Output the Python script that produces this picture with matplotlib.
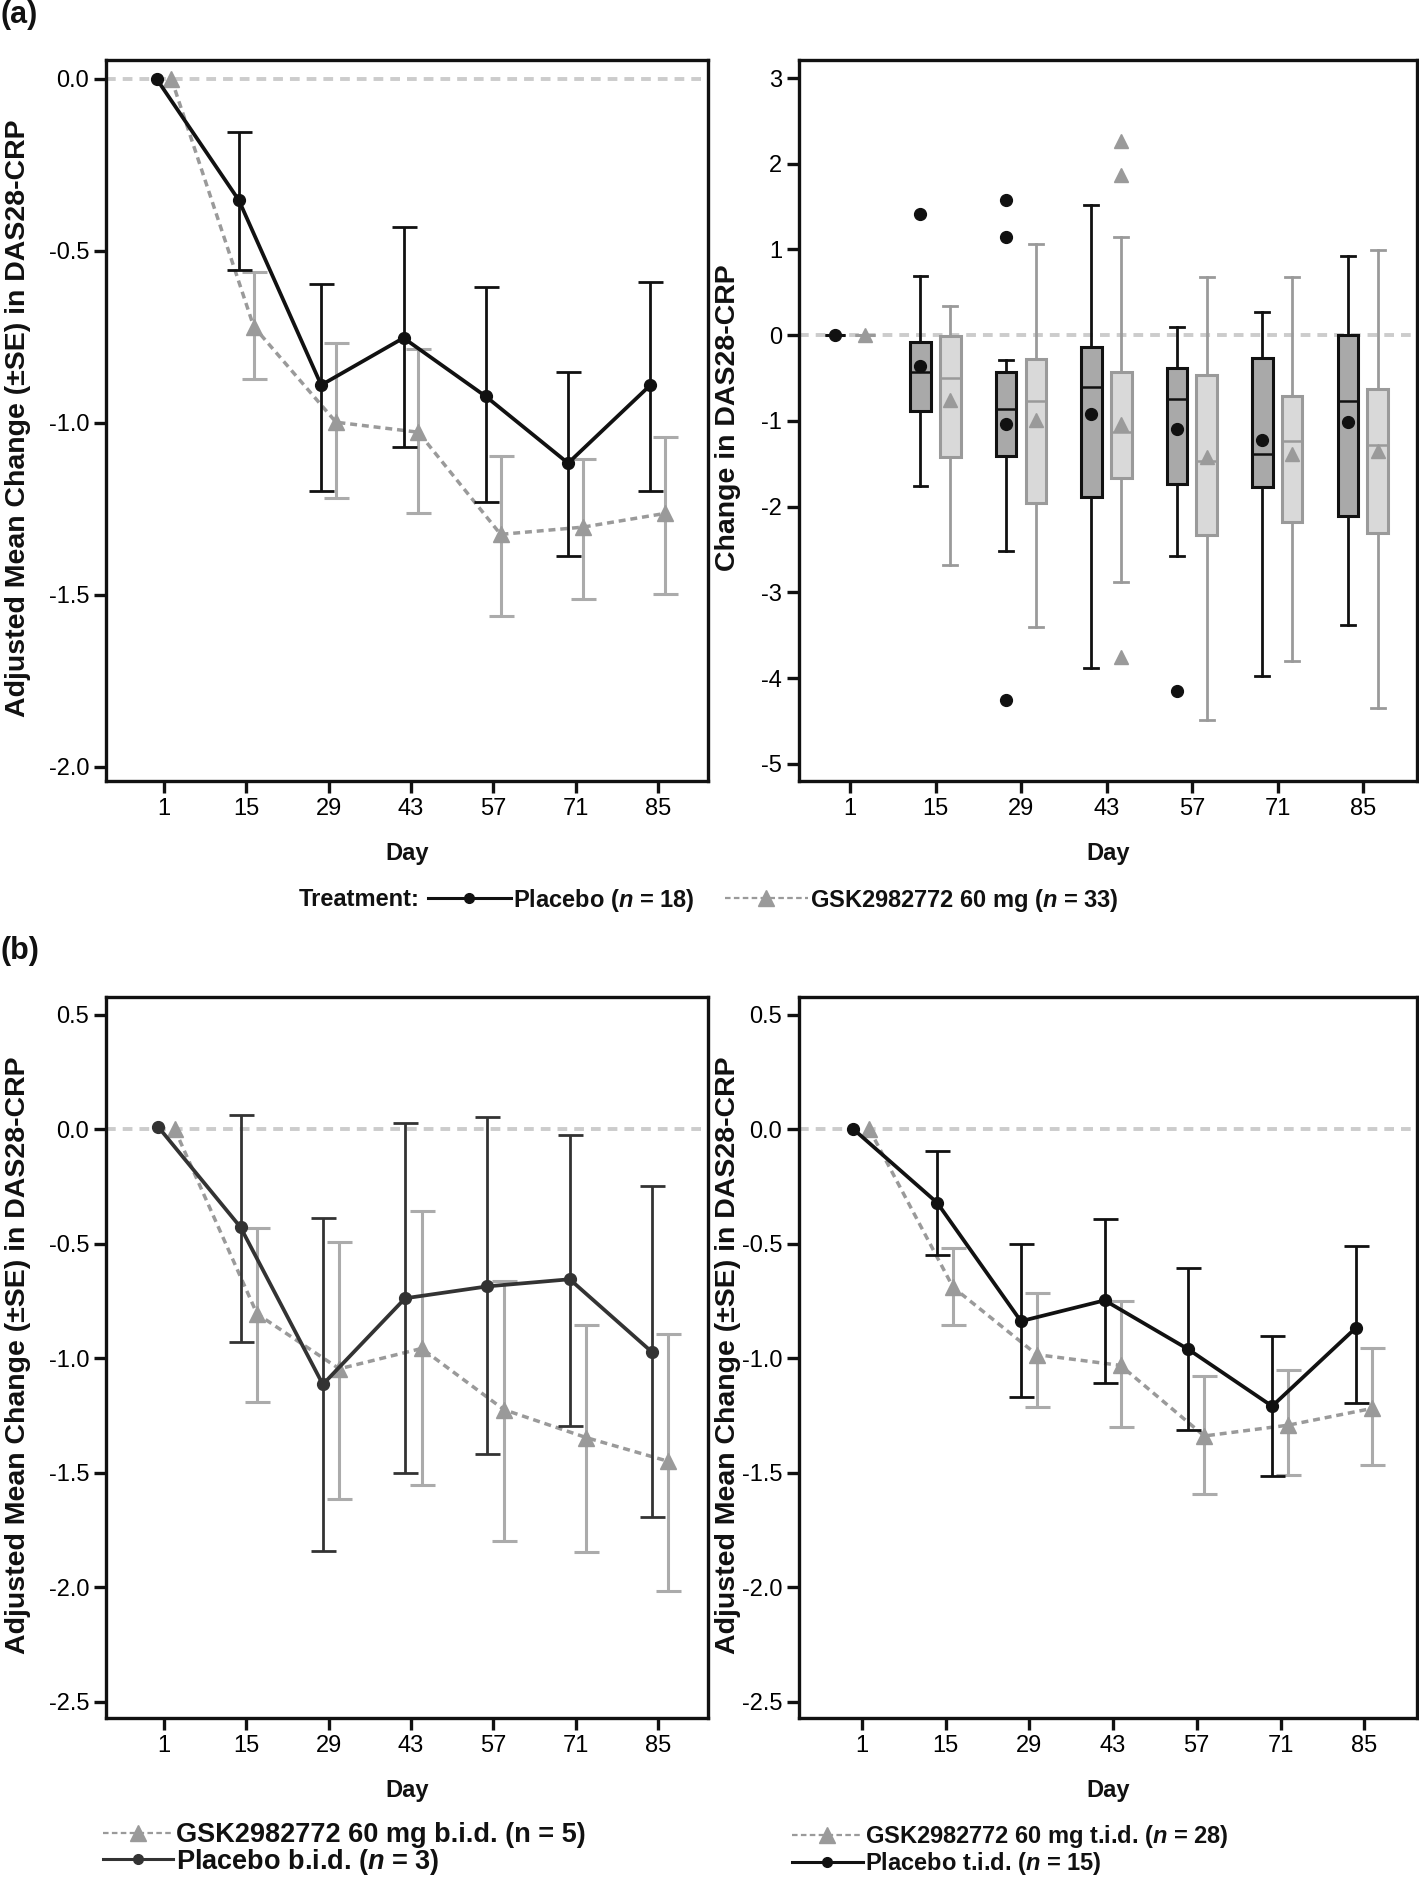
import numpy as np
import matplotlib
matplotlib.use("Agg")
import matplotlib.pyplot as plt
from matplotlib.lines import Line2D

plt.rcParams['font.family'] = ['Liberation Sans', 'DejaVu Sans']
plt.rcParams['mathtext.fontset'] = 'custom'
plt.rcParams['mathtext.it'] = 'Liberation Sans:italic:bold'
plt.rcParams['mathtext.rm'] = 'Liberation Sans:bold'
plt.rcParams['mathtext.bf'] = 'Liberation Sans:bold'

days = ['1', '15', '29', '43', '57', '71', '85']

# (a) left: adjusted mean change with SE bounds
a_plc_mean = [0, -0.353, -0.89, -0.753, -0.923, -1.117, -0.89]
a_plc_lo = [0, -0.555, -1.199, -1.069, -1.229, -1.386, -1.199]
a_plc_hi = [0, -0.154, -0.597, -0.43, -0.605, -0.851, -0.589]
a_gsk_mean = [0, -0.72, -0.998, -1.027, -1.324, -1.303, -1.263]
a_gsk_lo = [0, -0.873, -1.217, -1.261, -1.56, -1.512, -1.498]
a_gsk_hi = [0, -0.562, -0.768, -0.786, -1.095, -1.104, -1.04]

# (a) right: box plot summaries
plc_whislo = [0, -1.76, -2.515, -3.88, -2.575, -3.973, -3.378]
plc_q1 = [0, -0.89, -1.41, -1.886, -1.739, -1.766, -2.107]
plc_med = [0, -0.435, -0.863, -0.602, -0.749, -1.391, -0.763]
plc_q3 = [0, -0.08, -0.435, -0.134, -0.388, -0.268, 0.0]
plc_whishi = [0, 0.696, -0.294, 1.518, 0.094, 0.274, 0.923]
plc_boxmean = [0, -0.36, -1.037, -0.916, -1.097, -1.224, -1.01]
plc_fliers = [[], [1.41], [1.58, 1.15, -4.25], [], [-4.154], [], []]

gsk_whislo = [0, -2.68, -3.405, -2.876, -4.488, -3.8, -4.348]
gsk_q1 = [0, -1.425, -1.953, -1.666, -2.334, -2.174, -2.308]
gsk_med = [0, -0.5, -0.763, -1.13, -1.465, -1.231, -1.284]
gsk_q3 = [0, -0.013, -0.28, -0.428, -0.462, -0.709, -0.622]
gsk_whishi = [0, 0.34, 1.063, 1.15, 0.682, 0.682, 0.997]
gsk_boxmean = [0, -0.756, -0.99, -1.04, -1.425, -1.385, -1.351]
gsk_fliers = [[], [], [], [2.27, 1.866, -3.75], [], [], []]

# (b) left: b.i.d.
b_plc_mean = [0.01, -0.428, -1.114, -0.738, -0.686, -0.655, -0.973]
b_plc_lo = [0.01, -0.929, -1.842, -1.5, -1.419, -1.294, -1.693]
b_plc_hi = [0.01, 0.06, -0.389, 0.026, 0.055, -0.026, -0.248]
b_gsk_mean = [0, -0.806, -1.046, -0.957, -1.224, -1.346, -1.45]
b_gsk_lo = [0, -1.19, -1.615, -1.552, -1.797, -1.845, -2.017]
b_gsk_hi = [0, -0.43, -0.493, -0.357, -0.663, -0.853, -0.895]

# (b) right: t.i.d.
c_plc_mean = [0, -0.321, -0.838, -0.747, -0.961, -1.209, -0.867]
c_plc_lo = [0, -0.548, -1.167, -1.107, -1.311, -1.514, -1.196]
c_plc_hi = [0, -0.094, -0.501, -0.392, -0.606, -0.901, -0.512]
c_gsk_mean = [0, -0.69, -0.984, -1.031, -1.339, -1.292, -1.219]
c_gsk_lo = [0, -0.856, -1.214, -1.3, -1.593, -1.509, -1.467]
c_gsk_hi = [0, -0.52, -0.715, -0.749, -1.078, -1.052, -0.953]

GREY = '#9a9a9a'
EGREY = '#ababab'
REF = '#cccccc'
W, H = 1419, 1877


def frame(ax, xlim, ylim, yticks, yfmt):
    ax.set_xlim(*xlim)
    ax.set_ylim(*ylim)
    ax.set_xticks(range(len(days)))
    ax.set_xticklabels(days)
    ax.set_yticks(yticks)
    ax.set_yticklabels([yfmt.format(v) for v in yticks])
    for s in ax.spines.values():
        s.set_linewidth(2.4)
        s.set_color('#111111')
    ax.tick_params(width=2.4, length=8.5, labelsize=17, pad=3.5, color='#111111')
    ax.axhline(0, color=REF, lw=2.8, ls=(0, (2.5, 1.8)), zorder=0)


def line_panel(ax, pm, plo, phi, gm, glo, ghi, pcol, dp, dg):
    x = np.arange(len(days))
    pm, plo, phi = map(np.array, (pm, plo, phi))
    gm, glo, ghi = map(np.array, (gm, glo, ghi))
    ax.errorbar(x[1:] + dg, gm[1:], yerr=[gm[1:] - glo[1:], ghi[1:] - gm[1:]],
                fmt='none', ecolor=EGREY, elinewidth=2.2, capsize=9, capthick=2.2, zorder=2)
    ax.plot(x + dg, gm, color=GREY, lw=2.5, ls=(0, (2, 1.4)), marker='^', ms=11,
            mfc=GREY, mec=GREY, zorder=3)
    ax.errorbar(x[1:] + dp, pm[1:], yerr=[pm[1:] - plo[1:], phi[1:] - pm[1:]],
                fmt='none', ecolor=pcol, elinewidth=2.0, capsize=9, capthick=2.0, zorder=4)
    ax.plot(x + dp, pm, color=pcol, lw=2.7, marker='o', ms=8.5, mfc=pcol, mec=pcol, zorder=5)


fig = plt.figure(figsize=(W / 100, H / 100), dpi=100)


def axes_px(left, top, right, bottom):
    return fig.add_axes([left / W, 1 - bottom / H, (right - left) / W, (bottom - top) / H])


ax1 = axes_px(106, 60, 708, 781)
ax2 = axes_px(799, 60, 1417, 781)
ax3 = axes_px(106, 997, 708, 1718)
ax4 = axes_px(799, 997, 1417, 1718)

# (a) left
frame(ax1, (-0.705, 6.61), (-2.041, 0.055), [0.0, -0.5, -1.0, -1.5, -2.0], '{:.1f}')
line_panel(ax1, a_plc_mean, a_plc_lo, a_plc_hi, a_gsk_mean, a_gsk_lo, a_gsk_hi,
           '#111111', -0.09, 0.09)

# (a) right box plots
frame(ax2, (-0.6, 6.63), (-5.2, 3.21), [3, 2, 1, 0, -1, -2, -3, -4, -5], '{:d}')
x = np.arange(len(days))
plc_stats = [dict(whislo=plc_whislo[i], q1=plc_q1[i], med=plc_med[i], q3=plc_q3[i],
                  whishi=plc_whishi[i], mean=plc_boxmean[i], fliers=plc_fliers[i])
             for i in range(len(days))]
gsk_stats = [dict(whislo=gsk_whislo[i], q1=gsk_q1[i], med=gsk_med[i], q3=gsk_q3[i],
                  whishi=gsk_whishi[i], mean=gsk_boxmean[i], fliers=gsk_fliers[i])
             for i in range(len(days))]
ax2.bxp(plc_stats, positions=x - 0.18, widths=0.24, capwidths=0.16, patch_artist=True,
        showmeans=True, manage_ticks=False,
        boxprops=dict(facecolor='#a9a9a9', edgecolor='#111111', lw=2.2),
        medianprops=dict(color='#111111', lw=1.8),
        whiskerprops=dict(color='#111111', lw=2.0),
        capprops=dict(color='#111111', lw=2.0),
        meanprops=dict(marker='o', ms=8.5, mfc='#111111', mec='#111111'),
        flierprops=dict(marker='o', ms=8.5, mfc='#111111', mec='#111111'))
ax2.bxp(gsk_stats, positions=x + 0.17, widths=0.24, capwidths=0.16, patch_artist=True,
        showmeans=True, manage_ticks=False,
        boxprops=dict(facecolor='#d9d9d9', edgecolor=GREY, lw=2.2),
        medianprops=dict(color=GREY, lw=1.8),
        whiskerprops=dict(color=GREY, lw=2.0),
        capprops=dict(color=GREY, lw=2.0),
        meanprops=dict(marker='^', ms=10, mfc=GREY, mec=GREY),
        flierprops=dict(marker='^', ms=10, mfc=GREY, mec=GREY))

# (b) panels
bticks = [0.5, 0.0, -0.5, -1.0, -1.5, -2.0, -2.5]
frame(ax3, (-0.705, 6.61), (-2.57, 0.577), bticks, '{:.1f}')
line_panel(ax3, b_plc_mean, b_plc_lo, b_plc_hi, b_gsk_mean, b_gsk_lo, b_gsk_hi,
           '#333333', -0.07, 0.13)
frame(ax4, (-0.75, 6.63), (-2.57, 0.577), bticks, '{:.1f}')
line_panel(ax4, c_plc_mean, c_plc_lo, c_plc_hi, c_gsk_mean, c_gsk_lo, c_gsk_hi,
           '#111111', -0.1, 0.09)

# text labels
bold = dict(fontweight='bold', color='#111111')
fig.text(0, 1, '(a)', ha='left', va='top', fontsize=22, **bold)
fig.text(0, 1 - 936 / H, '(b)', ha='left', va='top', fontsize=22, **bold)
ylab = 'Adjusted Mean Change (±SE) in DAS28-CRP'
fig.text(18 / W, 1 - 418 / H, ylab, rotation=90, ha='center', va='center', fontsize=20.5, **bold)
fig.text(728 / W, 1 - 418 / H, 'Change in DAS28-CRP', rotation=90, ha='center', va='center',
         fontsize=20.5, **bold)
fig.text(18 / W, 1 - 1355 / H, ylab, rotation=90, ha='center', va='center', fontsize=20.5, **bold)
fig.text(728 / W, 1 - 1355 / H, ylab, rotation=90, ha='center', va='center', fontsize=20.5, **bold)
for cx, cy in [(407, 853), (1108, 853), (407, 1790), (1108, 1790)]:
    fig.text(cx / W, 1 - cy / H, 'Day', ha='center', va='center', fontsize=17, **bold)


def h_plc(col, ms=7):
    return Line2D([], [], color=col, lw=2.2, marker='o', ms=ms, mfc=col, mec=col)


def h_gsk(ms=11):
    return Line2D([], [], color=GREY, lw=1.6, ls=(0, (2.5, 1.5)), marker='^', ms=ms,
                  mfc=GREY, mec=GREY)


def leg_kw(size):
    return dict(frameon=False, prop=dict(weight='bold', size=size), borderpad=0,
                borderaxespad=0, handletextpad=0.1)


fig.text(299 / W, 1 - 900 / H, 'Treatment:', ha='left', va='center', fontsize=17, **bold)
la = fig.legend([h_plc('#111111'), h_gsk()],
                ['Placebo ($n$ = 18)', 'GSK2982772 60 mg ($n$ = 33)'],
                loc='center left', bbox_to_anchor=(428 / W, 1 - 900 / H), ncol=2,
                handlelength=3.5, columnspacing=1.3, **leg_kw(17))

lb = fig.legend([h_gsk(), h_plc('#333333')],
                ['GSK2982772 60 mg b.i.d. (n = 5)', 'Placebo b.i.d. ($n$ = 3)'],
                loc='upper left', bbox_to_anchor=(103 / W, 1 - 1822 / H),
                handlelength=2.6, labelspacing=-0.05, **leg_kw(19.5))
lc = fig.legend([h_gsk(), h_plc('#111111')],
                ['GSK2982772 60 mg t.i.d. ($n$ = 28)', 'Placebo t.i.d. ($n$ = 15)'],
                loc='upper left', bbox_to_anchor=(792 / W, 1 - 1823 / H),
                handlelength=3.0, labelspacing=0.0, **leg_kw(17))
for lg in (la, lb, lc):
    for t in lg.get_texts():
        t.set_color('#111111')

fig.savefig('out.png', dpi=100)
